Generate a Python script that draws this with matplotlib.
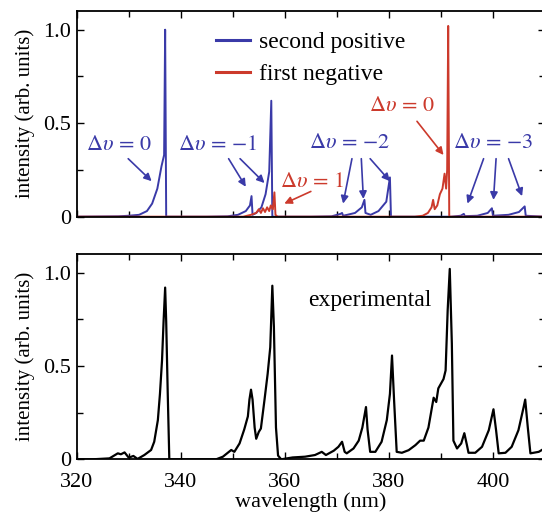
import numpy as np
import matplotlib
matplotlib.use("Agg")
import matplotlib.pyplot as plt
from matplotlib.ticker import MultipleLocator, FixedLocator

# simulated spectra (top panel)
sp_wl = [320, 328, 330, 332, 333.5, 334.5, 335.5, 336.3, 336.8, 337.0, 337.2,
         345, 349, 351, 352.5, 353.3, 353.6, 353.8, 354.5, 355.5, 356.3, 357.0,
         357.4, 357.6, 365, 369, 370.7, 371.0, 371.2, 372, 373.5, 374.8, 375.3,
         375.5, 376.5, 378, 379.5, 380.2, 380.4, 392, 393.8, 394.4, 394.6, 397,
         399, 399.8, 400.0, 403, 405, 406.1, 406.3, 410]
sp_int = [0, 0.002, 0.005, 0.01, 0.03, 0.07, 0.15, 0.27, 0.33, 1.0, 0.0,
          0, 0.002, 0.01, 0.03, 0.06, 0.11, 0.01, 0.02, 0.05, 0.12, 0.24,
          0.62, 0.0, 0, 0.002, 0.015, 0.02, 0.005, 0.01, 0.02, 0.05, 0.09,
          0.02, 0.01, 0.03, 0.08, 0.21, 0.0, 0, 0.005, 0.015, 0.003, 0.005,
          0.02, 0.045, 0.005, 0.01, 0.025, 0.055, 0.005, 0]

fn_wl = [320, 352, 353.5, 354.5, 355, 355.4, 355.8, 356.2, 356.6, 357.0, 357.3,
         357.7, 358.0, 358.2, 358.6, 385, 386.5, 387.5, 388.2, 388.5, 388.8,
         389.3, 389.8, 390.3, 390.7, 391.0, 391.2, 391.4, 391.6, 410]
fn_int = [0, 0, 0.01, 0.02, 0.04, 0.02, 0.045, 0.025, 0.05, 0.03, 0.06,
          0.04, 0.13, 0.01, 0.0, 0, 0.005, 0.02, 0.05, 0.09, 0.04,
          0.06, 0.12, 0.15, 0.23, 0.15, 0.25, 1.02, 0.0, 0]

# experimental spectrum (bottom panel)
ex_wl = [320, 323, 326.3, 327.9, 328.5, 329.2, 330.0, 330.9, 331.7, 333.0,
         334.3, 334.9, 335.6, 336.0, 336.4, 336.7, 337.0, 337.2, 337.5, 337.8,
         346.8, 348.1, 349.7, 350.3, 351.3, 352.2, 352.9, 353.2, 353.5, 353.8,
         354.2, 354.5, 355.0, 355.4, 356.1, 356.7, 357.2, 357.6, 357.9, 358.3,
         358.7, 359.3, 361.5, 363.9, 365.8, 367.1, 367.9, 369.4, 370.3, 371.0,
         371.5, 371.9, 373.2, 374.2, 374.9, 375.6, 375.9, 376.4, 377.4, 378.6,
         379.6, 380.2, 380.6, 381.0, 381.5, 382.5, 383.8, 385.1, 386.0, 386.7,
         387.6, 388.6, 389.1, 389.5, 390.5, 390.9, 391.3, 391.7, 392.1, 392.4,
         393.1, 393.9, 394.5, 395.0, 395.3, 396.6, 397.9, 399.2, 400.1, 400.6,
         401.1, 402.4, 403.6, 404.9, 405.9, 406.2, 406.7, 407.2, 408.8, 410]
ex_int = [0.0, 0.0, 0.005, 0.032, 0.027, 0.037, 0.009, 0.018, 0.002, 0.023,
          0.05, 0.094, 0.21, 0.35, 0.53, 0.74, 0.92, 0.74, 0.35, 0.0,
          0.0, 0.014, 0.05, 0.04, 0.085, 0.16, 0.23, 0.32, 0.373, 0.32,
          0.17, 0.11, 0.147, 0.165, 0.32, 0.458, 0.60, 0.93, 0.71, 0.17,
          0.02, 0.0, 0.01, 0.014, 0.023, 0.04, 0.023, 0.046, 0.067, 0.094,
          0.04, 0.032, 0.058, 0.10, 0.17, 0.28, 0.16, 0.04, 0.04, 0.094,
          0.21, 0.35, 0.556, 0.316, 0.04, 0.035, 0.049, 0.076, 0.10, 0.10,
          0.17, 0.33, 0.307, 0.38, 0.43, 0.476, 0.80, 1.02, 0.62, 0.10,
          0.058, 0.085, 0.14, 0.076, 0.035, 0.035, 0.067, 0.156, 0.268, 0.156,
          0.032, 0.035, 0.067, 0.156, 0.28, 0.32, 0.17, 0.032, 0.04, 0.06]

x_ticks = [320, 340, 360, 380, 400]
y_ticks = [0, 0.5, 1.0]
y_ticklabels = ["0", "0.5", "1.0"]

blue = "#3a3aa8"
red = "#cc3a2c"

plt.rcParams["font.family"] = ["Liberation Serif", "DejaVu Serif"]
plt.rcParams["mathtext.fontset"] = "stix"

fig = plt.figure(figsize=(5.42, 5.18), dpi=100)
ax1 = fig.add_axes([0.1415, 0.5817, 0.864, 0.3971])
ax2 = fig.add_axes([0.1415, 0.1133, 0.864, 0.3964])

for ax in (ax1, ax2):
    ax.set_xlim(320, 410)
    ax.set_ylim(0, 1.1)
    ax.xaxis.set_major_locator(FixedLocator(x_ticks))
    ax.xaxis.set_minor_locator(MultipleLocator(10))
    ax.yaxis.set_major_locator(FixedLocator(y_ticks))
    ax.yaxis.set_minor_locator(MultipleLocator(0.25))
    ax.set_yticklabels(y_ticklabels)
    ax.tick_params(which="both", direction="in", top=True, right=True,
                   labelsize=16, width=1.0)
    ax.tick_params(axis="y", pad=4)
    ax.tick_params(axis="x", pad=10)
    ax.tick_params(which="major", length=5)
    ax.tick_params(which="minor", length=4)
    for s in ax.spines.values():
        s.set_linewidth(1.3)
    ax.set_ylabel("intensity (arb. units)", fontsize=15, labelpad=6)

ax1.tick_params(labelbottom=False)
ax2.set_xticklabels([str(t) for t in x_ticks])
ax2.set_xlabel("wavelength (nm)", fontsize=16, labelpad=0)

# top panel
ax1.plot(sp_wl, sp_int, color=blue, lw=1.4, label="second positive")
ax1.plot(fn_wl, fn_int, color=red, lw=1.4, label="first negative")
leg = ax1.legend(loc="upper left", bbox_to_anchor=(0.298, 0.9), frameon=False,
                 fontsize=17, handlelength=1.45, handletextpad=0.35,
                 labelspacing=0.45, borderaxespad=0, borderpad=0)
for h in leg.get_lines():
    h.set_linewidth(2.2)

arrow = dict(arrowstyle="-|>", lw=1.2, mutation_scale=11, shrinkA=0, shrinkB=0)

def label(ax, text, pos, color, arrows):
    ax.text(pos[0], pos[1], text, color=color, fontsize=16, ha="center", va="center")
    for (x0, y0, x1, y1) in arrows:
        ax.annotate("", xy=(x1, y1), xytext=(x0, y0),
                    arrowprops=dict(arrow, color=color))

label(ax1, r"$\Delta\upsilon\,{=}\,0$", (328.2, 0.38), blue,
      [(329.9, 0.31, 334.4, 0.19)])
label(ax1, r"$\Delta\upsilon\,{=}\,{-}1$", (347.2, 0.38), blue,
      [(349.2, 0.31, 352.5, 0.16), (351.4, 0.31, 356.1, 0.18)])
label(ax1, r"$\Delta\upsilon\,{=}\,1$", (365.2, 0.185), red,
      [(365.0, 0.135, 359.9, 0.07)])
label(ax1, r"$\Delta\upsilon\,{=}\,0$", (382.6, 0.59), red,
      [(385.4, 0.51, 390.5, 0.33)])
label(ax1, r"$\Delta\upsilon\,{=}\,{-}2$", (372.4, 0.39), blue,
      [(372.9, 0.31, 371.2, 0.07), (374.7, 0.31, 375.1, 0.095),
       (376.4, 0.31, 380.2, 0.19)])
label(ax1, r"$\Delta\upsilon\,{=}\,{-}3$", (400.1, 0.39), blue,
      [(398.2, 0.31, 395.1, 0.07), (400.6, 0.31, 400.1, 0.09),
       (403.0, 0.31, 405.6, 0.11)])

# bottom panel
ax2.plot(ex_wl, ex_int, color="black", lw=1.6)
ax2.text(376.4, 0.85, "experimental", fontsize=17, ha="center", va="center")

fig.savefig("out.png", dpi=100)
